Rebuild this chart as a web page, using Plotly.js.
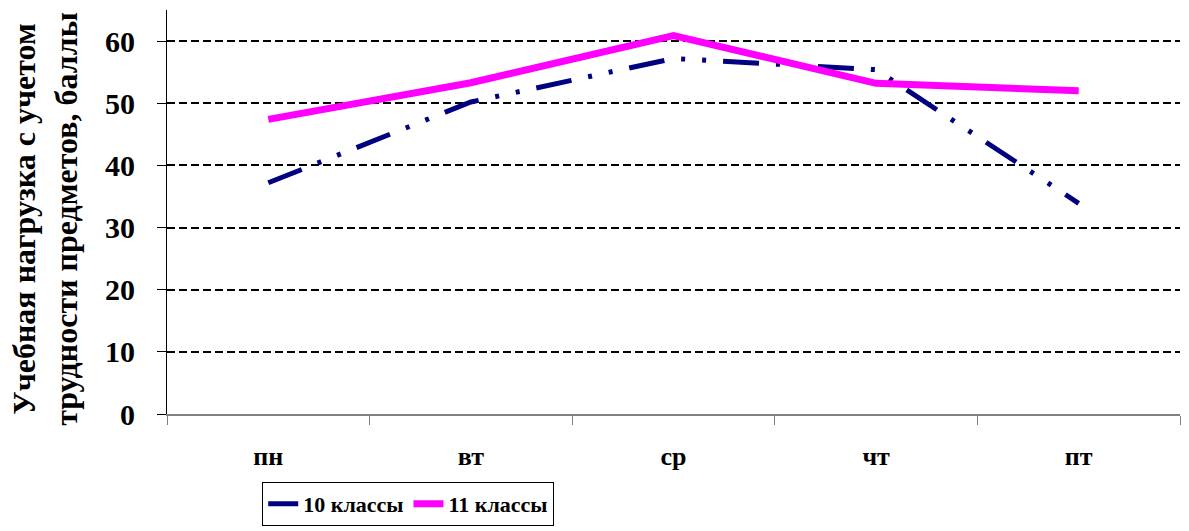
<!DOCTYPE html>
<html>
<head>
<meta charset="utf-8">
<script src="https://cdn.plot.ly/plotly-3.0.1.min.js"></script>
<style>html,body{margin:0;padding:0;background:#fff;}#chart{width:1189px;height:531px;}</style>
</head>
<body>
<div id="chart"></div>
<script>
var days = ["пн", "вт", "ср", "чт", "пт"];
var grade10 = [37.2, 50.2, 57.2, 55.4, 33.9];
var grade11 = [47.4, 53.3, 60.9, 53.2, 52.0];
var seriesNames = ["10 классы", "11 классы"];
var yTicks = [0, 10, 20, 30, 40, 50, 60];
var yTitle = "Учебная нагрузка с учетом<br>трудности предметов, баллы";

var font = "'Liberation Serif', 'Times New Roman', serif";
var traces = [
  {x: days, y: grade10, name: seriesNames[0], type: "scatter", mode: "lines",
   line: {color: "#000080", width: 5, dash: "36px,17px,4px,17px,4px,17px"}},
  {x: days, y: grade11, name: seriesNames[1], type: "scatter", mode: "lines",
   line: {color: "#ff00ff", width: 7}}
];
var layout = {
  width: 1189, height: 531,
  margin: {l: 167, r: 9, t: 10, b: 117, autoexpand: false},
  paper_bgcolor: "#fff", plot_bgcolor: "#fff",
  showlegend: true,
  font: {family: font, color: "#000"},
  xaxis: {
    type: "category", tickson: "boundaries", ticks: "outside", ticklen: 9,
    tickcolor: "#808080", tickwidth: 1, showgrid: false, showline: true,
    linecolor: "#808080", linewidth: 2, automargin: false,
    tickfont: {family: font, size: 26, color: "#000", weight: "bold"},
    ticklabelstandoff: 18, zeroline: false, range: [-0.5, 4.5]
  },
  yaxis: {
    range: [0, 65], tickvals: yTicks, ticktext: yTicks.map(String),
    ticks: "outside", ticklen: 9, tickcolor: "#000", tickwidth: 1,
    showline: true, linecolor: "#000", linewidth: 1, automargin: false,
    showgrid: true, gridcolor: "#000", gridwidth: 2, griddash: "8px,4px",
    zeroline: false,
    tickfont: {family: font, size: 30, color: "#000", weight: "bold"},
    ticklabelstandoff: 16
  },
  annotations: [{
    text: yTitle, textangle: -90, xref: "paper", yref: "paper",
    x: (45 - 167) / 1013, y: 0.483, xanchor: "center", yanchor: "middle",
    showarrow: false, align: "center",
    font: {family: font, size: 32, color: "#000", weight: "bold"}
  }],
  legend: {
    orientation: "h", x: 0.094, xanchor: "left", y: -0.168, yanchor: "top",
    bordercolor: "#000", borderwidth: 1, bgcolor: "#fff",
    font: {family: font, size: 22, color: "#000", weight: "bold"},
    itemwidth: 30
  }
};
Plotly.newPlot("chart", traces, layout, {displayModeBar: false, staticPlot: true});
</script>
</body>
</html>
